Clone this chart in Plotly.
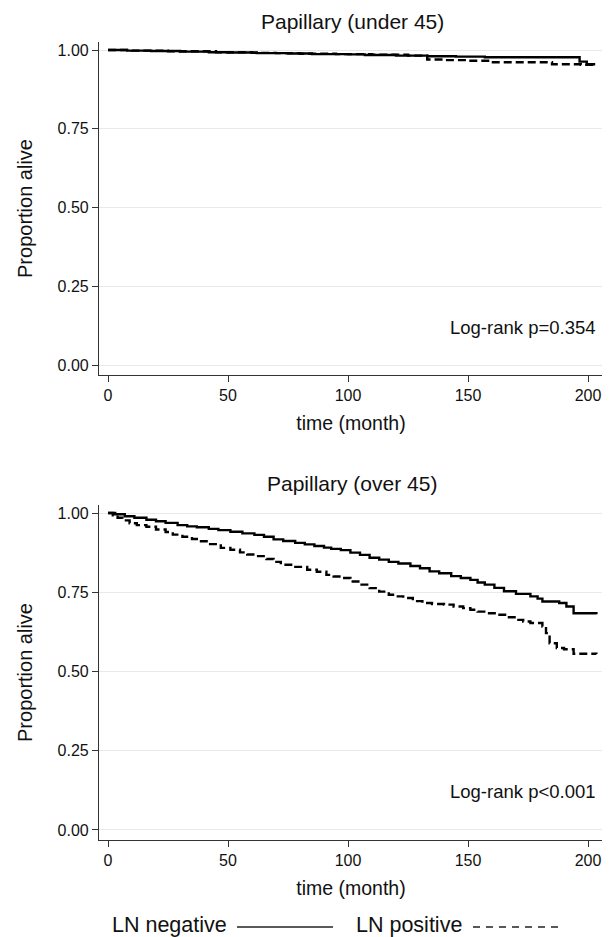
import plotly.graph_objects as go

# ---- data ----
top_neg_t = [0, 8, 18, 30, 42, 50, 62, 75, 85, 100, 107, 120, 133, 145, 157, 196.5, 199.5, 203]
top_neg_s = [1.0, 0.998, 0.997, 0.995, 0.993, 0.992, 0.990, 0.989, 0.987, 0.986, 0.984, 0.982, 0.980, 0.979, 0.977, 0.963, 0.955, 0.955]
top_pos_t = [0, 10, 25, 45, 60, 70, 80, 95, 110, 125, 133, 140, 150, 159, 185, 197, 203]
top_pos_s = [1.0, 0.998, 0.996, 0.993, 0.991, 0.990, 0.988, 0.987, 0.985, 0.982, 0.970, 0.968, 0.966, 0.961, 0.955, 0.953, 0.953]

bot_neg_t = [0, 3, 7, 11, 16, 20, 24, 29, 33, 37, 42, 46, 51, 56, 61, 65, 69, 73, 78, 82,
             86, 90, 93, 97, 101, 105, 109, 113, 117, 121, 126, 130, 134, 138, 143, 147, 151, 154, 157, 161,
             165, 170, 176, 179, 181, 188, 191, 194, 203.5]
bot_neg_s = [1.0, 0.996, 0.990, 0.985, 0.979, 0.974, 0.969, 0.962, 0.958, 0.955, 0.950, 0.946, 0.941, 0.936, 0.931, 0.925, 0.917, 0.912, 0.906, 0.901,
             0.896, 0.891, 0.887, 0.883, 0.875, 0.868, 0.859, 0.853, 0.846, 0.841, 0.833, 0.826, 0.816, 0.810, 0.801, 0.795, 0.789, 0.781, 0.774, 0.764,
             0.753, 0.745, 0.737, 0.730, 0.721, 0.716, 0.705, 0.684, 0.681]
bot_pos_t = [0, 2, 4, 6, 9, 12, 16, 20, 24, 27, 31, 35, 38, 42, 47, 51, 55, 58, 62, 66,
             69, 72, 77, 83, 87, 91, 94, 97, 101, 105, 109, 113, 117, 120, 123, 127, 131, 135, 140, 144,
             148, 151, 154, 158, 162, 166, 170, 173, 176, 181, 182.5, 184, 187, 190, 194, 203.5]
bot_pos_s = [1.0, 0.993, 0.985, 0.977, 0.968, 0.962, 0.957, 0.948, 0.940, 0.932, 0.925, 0.918, 0.911, 0.902, 0.890, 0.884, 0.876, 0.869, 0.864, 0.855,
             0.846, 0.837, 0.830, 0.821, 0.815, 0.805, 0.800, 0.795, 0.784, 0.774, 0.763, 0.752, 0.742, 0.737, 0.732, 0.722, 0.716, 0.713, 0.711, 0.705,
             0.700, 0.695, 0.689, 0.684, 0.679, 0.671, 0.663, 0.658, 0.653, 0.642, 0.621, 0.589, 0.574, 0.570, 0.556, 0.555]

x_ticks = [0, 50, 100, 150, 200]
y_ticks = [0, 0.25, 0.5, 0.75, 1.0]
y_labels = ["0.00", "0.25", "0.50", "0.75", "1.00"]
titles = ["Papillary (under 45)", "Papillary (over 45)"]
pvals = ["Log-rank p=0.354", "Log-rank p<0.001"]
legend_names = ["LN negative", "LN positive"]

# page has an 8px body margin -> figure drawn at (8, 8)
OFF = 8
W, H = 610 - OFF, 937 - OFF
L, R = 99 - OFF, 7
FONT = "Liberation Sans, Arial, sans-serif"


def px(x):  # reference-window x pixel -> paper
    return (x - OFF - L) / (W - L - R)


def py(y):  # reference-window y pixel -> paper
    return 1 - (y - OFF) / H


fig = go.Figure()
line_neg = dict(color="black", width=2.4)
line_pos = dict(color="black", width=2.4, dash="8px,4px")

for i, (nt, ns, pt, ps) in enumerate([(top_neg_t, top_neg_s, top_pos_t, top_pos_s),
                                       (bot_neg_t, bot_neg_s, bot_pos_t, bot_pos_s)]):
    xa = "x" if i == 0 else "x2"
    ya = "y" if i == 0 else "y2"
    fig.add_trace(go.Scatter(x=nt, y=ns, mode="lines", line=line_neg, line_shape="hv",
                             name=legend_names[0], xaxis=xa, yaxis=ya, showlegend=False))
    fig.add_trace(go.Scatter(x=pt, y=ps, mode="lines", line=line_pos, line_shape="hv",
                             name=legend_names[1], xaxis=xa, yaxis=ya, showlegend=False))

xcommon = dict(range=[-3.75, 206.25], tickvals=x_ticks, ticks="outside", ticklen=6, tickwidth=1,
               tickcolor="#333", showline=True, linecolor="#333", linewidth=1.2, showgrid=False,
               zeroline=False, tickfont=dict(size=16, color="#111", family=FONT),
               title=dict(text="time (month)", font=dict(size=19.5, color="#111", family=FONT), standoff=13))
ycommon = dict(range=[-0.0317, 1.0254], tickvals=y_ticks, ticktext=y_labels, ticks="outside", ticklen=6,
               tickwidth=1, tickcolor="#333", showline=True, linecolor="#333", linewidth=1.2,
               showgrid=True, gridcolor="#e9e9e9", gridwidth=1, zeroline=False,
               tickfont=dict(size=16, color="#111", family=FONT),
               title=dict(text="Proportion alive", font=dict(size=20, color="#111", family=FONT), standoff=19))

fig.update_layout(
    width=W, height=H, margin=dict(l=L, r=R, t=0, b=0),
    plot_bgcolor="white", paper_bgcolor="white",
    xaxis=dict(domain=[0, 1], anchor="y", **xcommon),
    yaxis=dict(domain=[py(375), py(42)], anchor="x", **ycommon),
    xaxis2=dict(domain=[0, 1], anchor="y2", **xcommon),
    yaxis2=dict(domain=[py(840), py(505)], anchor="x2", **ycommon),
    font=dict(family=FONT, color="#111"),
)

ann = []
for yt, t in [(22, titles[0]), (484, titles[1])]:
    ann.append(dict(text=t, x=px(352), y=py(yt), xref="paper", yref="paper", showarrow=False,
                    xanchor="center", yanchor="middle", font=dict(size=21, family=FONT, color="#111")))
ann.append(dict(text=pvals[0], x=px(598), y=0.12, xref="paper", yref="y", showarrow=False,
                xanchor="right", yanchor="middle", font=dict(size=18.5, family=FONT, color="#111")))
ann.append(dict(text=pvals[1], x=px(598), y=0.12, xref="paper", yref="y2", showarrow=False,
                xanchor="right", yanchor="middle", font=dict(size=18.5, family=FONT, color="#111")))
# legend texts
ann.append(dict(text=legend_names[0], x=px(229), y=py(925), xref="paper", yref="paper", showarrow=False,
                xanchor="right", yanchor="middle", font=dict(size=21.5, family=FONT, color="#111")))
ann.append(dict(text=legend_names[1], x=px(354), y=py(925), xref="paper", yref="paper", showarrow=False,
                xanchor="left", yanchor="middle", font=dict(size=21.5, family=FONT, color="#111")))
fig.update_layout(annotations=ann)

fig.add_shape(type="line", xref="paper", yref="paper", x0=px(237), x1=px(333), y0=py(927), y1=py(927),
              line=dict(color="#222", width=1.3))
fig.add_shape(type="line", xref="paper", yref="paper", x0=px(473), x1=px(564), y0=py(927), y1=py(927),
              line=dict(color="#222", width=1.3, dash="7px,6px"))

fig.write_html("out.html")
